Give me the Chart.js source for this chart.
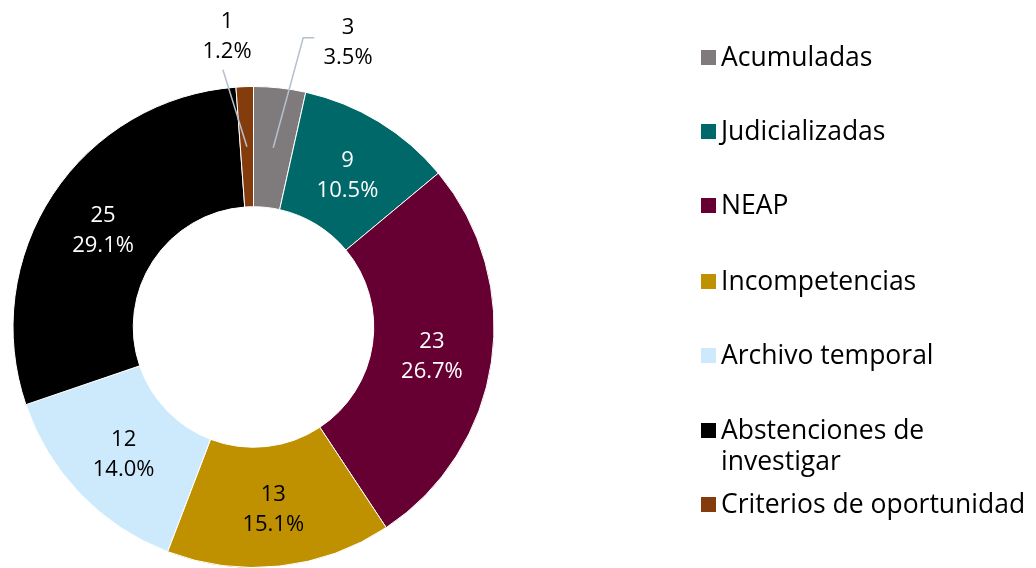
<!DOCTYPE html>
<html>
<head>
<meta charset="utf-8">
<script src="https://cdn.jsdelivr.net/npm/chart.js@4.4.0/dist/chart.umd.min.js"></script>
<style>
    html, body { margin: 0; padding: 0; background: #fff; }
    #wrap { width: 1036px; height: 568px; position: relative; }
</style>
</head>
<body>
<div id="wrap"><canvas id="pieChart" width="1036" height="568"></canvas></div>
<script>
const categories = [
    "Acumuladas",
    "Judicializadas",
    "NEAP",
    "Incompetencias",
    "Archivo temporal",
    ["Abstenciones de", "investigar"],
    "Criterios de oportunidad"
];
const counts = [3, 9, 23, 13, 12, 25, 1];
const colors = ["#7f7b7c", "#006868", "#660033", "#bf9000", "#cdeafd", "#000000", "#843c0c"];
const labelColors = ["#000", "#fff", "#fff", "#000", "#000", "#fff", "#000"];
// small slices get their label outside with a leader line
const outsideLabels = {
    0: { dx: 30, dy: -110, hook: 11, tx: 348, ty: 43 },
    6: { dx: -24, dy: -77, hook: 0, tx: 227, ty: 37 }
};

const total = counts.reduce((a, b) => a + b, 0);
const FONT = "'Open Sans', 'Lato', sans-serif";

const sliceLabels = {
    id: "sliceLabels",
    afterDatasetsDraw(chart) {
        const ctx = chart.ctx;
        const meta = chart.getDatasetMeta(0);
        ctx.save();
        ctx.font = "22px " + FONT;
        ctx.textAlign = "center";
        ctx.textBaseline = "middle";
        meta.data.forEach((arc, i) => {
            const v = counts[i];
            const pct = (v / total * 100).toFixed(1) + "%";
            const mid = (arc.startAngle + arc.endAngle) / 2;
            const r = (arc.innerRadius + arc.outerRadius) / 2;
            const x = arc.x + Math.cos(mid) * r;
            const y = arc.y + Math.sin(mid) * r;
            const out = outsideLabels[i];
            if (out) {
                ctx.strokeStyle = "#b4c0cf";
                ctx.lineWidth = 1.5;
                ctx.beginPath();
                ctx.moveTo(x, y);
                ctx.lineTo(x + out.dx, y + out.dy);
                if (out.hook) ctx.lineTo(x + out.dx + out.hook, y + out.dy);
                ctx.stroke();
                ctx.fillStyle = "#000";
                ctx.fillText(String(v), out.tx, out.ty - 15);
                ctx.fillText(pct, out.tx, out.ty + 15);
            } else {
                ctx.fillStyle = labelColors[i];
                ctx.fillText(String(v), x, y - 12);
                ctx.fillText(pct, x, y + 18);
            }
        });
        ctx.restore();
    }
};

const sideLegend = {
    id: "sideLegend",
    afterDraw(chart) {
        const ctx = chart.ctx;
        const rowsY = [58, 132, 206, 282, 356, 431, 505];
        ctx.save();
        ctx.font = "26.5px " + FONT;
        ctx.textAlign = "left";
        ctx.textBaseline = "middle";
        categories.forEach((cat, i) => {
            const y = rowsY[i];
            ctx.fillStyle = colors[i];
            ctx.fillRect(701, y - 8, 15, 15);
            ctx.fillStyle = "#000";
            const lines = Array.isArray(cat) ? cat : [cat];
            lines.forEach((ln, j) => ctx.fillText(ln, 721, y + j * 31));
        });
        ctx.restore();
    }
};

new Chart(document.getElementById("pieChart").getContext("2d"), {
    type: "doughnut",
    data: {
        labels: categories.map(c => Array.isArray(c) ? c.join(" ") : c),
        datasets: [{
            data: counts,
            backgroundColor: colors,
            borderColor: "#ffffff",
            borderWidth: 1
        }]
    },
    options: {
        responsive: false,
        animation: false,
        cutout: "50%",
        layout: {
            padding: { left: 12, right: 541, top: 86, bottom: 0 }
        },
        plugins: {
            legend: { display: false },
            tooltip: { enabled: false }
        }
    },
    plugins: [sliceLabels, sideLegend]
});
</script>
</body>
</html>
